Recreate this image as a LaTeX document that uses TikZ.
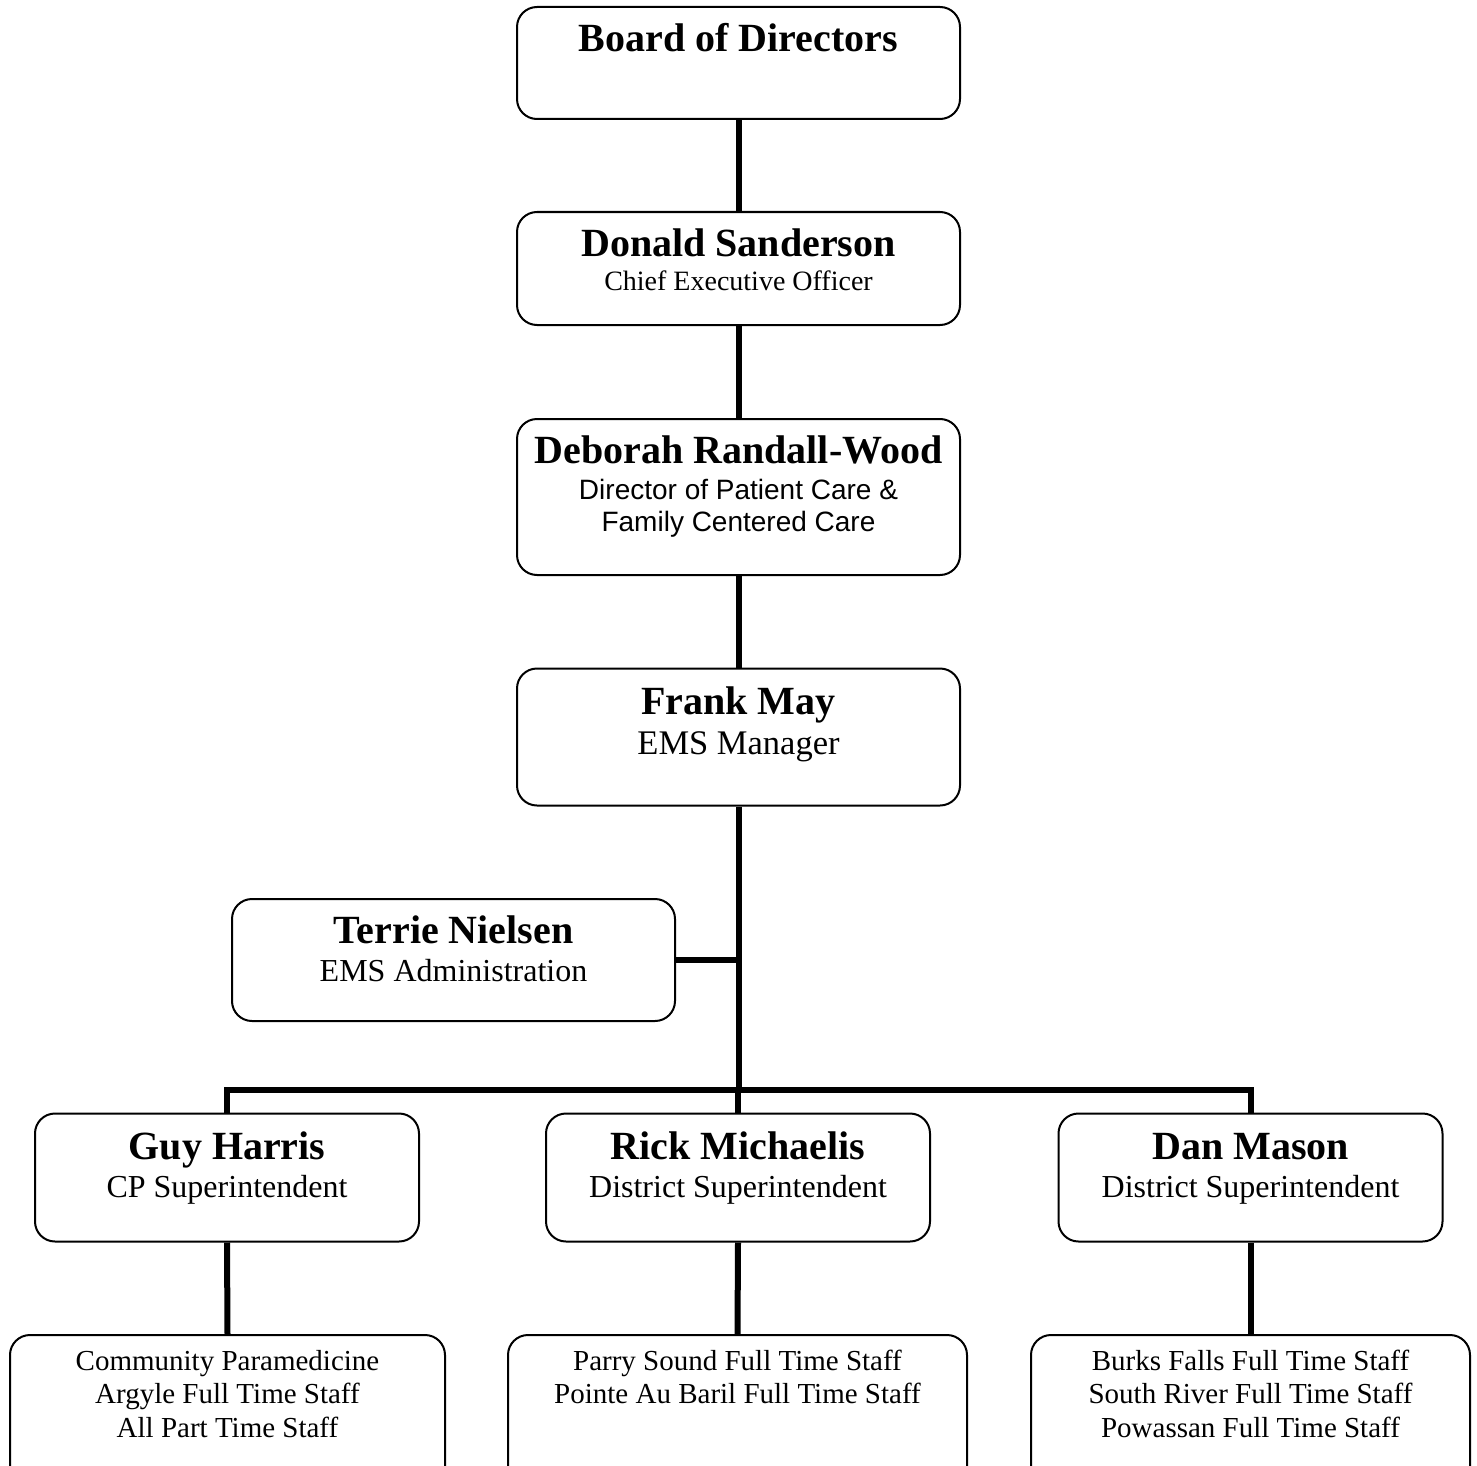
\documentclass[tikz,border=0pt]{standalone}
\usepackage{fontspec}
\setmainfont{Liberation Serif}
\newfontfamily\arialfont{Liberation Sans}
\begin{document}
\begin{tikzpicture}[x=1pt,y=-1pt,
  box/.style={draw=black, line width=2pt, rounded corners=20pt, fill=white, inner sep=0pt},
  conn/.style={draw=black, line width=6pt},
  nm/.style={anchor=base, inner sep=0pt, font=\fontsize{40}{44}\selectfont\bfseries},
  sub/.style={anchor=base, inner sep=0pt, font=\fontsize{#1}{#1}\selectfont},
  sub/.default=32
]
\useasboundingbox (0,0) rectangle (1477,1466);
\clip (0,0) rectangle (1477,1466);
% boxes
\node[box, minimum width=443pt, minimum height=112pt] (board) at (738.5,63) {};
\node[box, minimum width=443pt, minimum height=113pt] (donald) at (738.5,268.5) {};
\node[box, minimum width=443pt, minimum height=156pt] (deborah) at (738.5,497) {};
\node[box, minimum width=443pt, minimum height=137pt] (frank) at (738.5,737) {};
\node[box, minimum width=443pt, minimum height=122pt] (terrie) at (453.5,960) {};
\node[box, minimum width=384pt, minimum height=128pt] (guy) at (227,1177.5) {};
\node[box, minimum width=384pt, minimum height=128pt] (rick) at (738,1177.5) {};
\node[box, minimum width=384pt, minimum height=128pt] (dan) at (1250.5,1177.5) {};
\node[box, minimum width=435pt, minimum height=160pt] (staffa) at (227.5,1415) {};
\node[box, minimum width=459pt, minimum height=160pt] (staffb) at (737.5,1415) {};
\node[box, minimum width=439pt, minimum height=160pt] (staffc) at (1250.5,1415) {};
% connectors
\coordinate (bus) at (738.5,1090);
\draw[conn] (board.south) -- (donald.north);
\draw[conn] (donald.south) -- (deborah.north);
\draw[conn] (deborah.south) -- (frank.north);
\draw[conn] (frank.south) -- (bus);
\draw[conn] (terrie.east) -- (terrie.east -| frank.south);
\draw[conn] (guy.north) |- (bus) -| (dan.north);
\draw[conn] (rick.north) -- (rick.north |- bus);
\draw[conn] (guy.south) -- (staffa.north);
\draw[conn] (rick.south) -- (staffb.north);
\draw[conn] (dan.south) -- (staffc.north);
% texts
\node[nm] (t1) at (738.5,52) {Board of Directors};
\node[nm] (t2) at (738.5,256) {Donald Sanderson};
\node[sub=28] (t3) at (738.5,290) {Chief Executive Officer};
\node[nm] (t4) at (738.5,463) {Deborah Randall-Wood};
\node[sub=28, font=\arialfont\fontsize{28}{28}\selectfont] (t5) at (738.5,499) {Director of Patient Care \&};
\node[sub=28, font=\arialfont\fontsize{28}{28}\selectfont] (t6) at (738.5,531) {Family Centered Care};
\node[nm] (t7) at (738.5,714) {Frank May};
\node[sub=34.5] (t8) at (738.5,754) {EMS Manager};
\node[nm] (t9) at (453.5,943) {Terrie Nielsen};
\node[sub=32] (t10) at (453.5,981) {EMS Administration};
\node[nm] (t11) at (227,1159) {Guy Harris};
\node[sub=32] (t12) at (227,1197) {CP Superintendent};
\node[nm] (t13) at (738,1159) {Rick Michaelis};
\node[sub=32] (t14) at (738,1197) {District Superintendent};
\node[nm] (t15) at (1250.5,1159) {Dan Mason};
\node[sub=32] (t16) at (1250.5,1197) {District Superintendent};
\node[sub=29] (t17) at (227.5,1370) {Community Paramedicine};
\node[sub=29] (t18) at (227.5,1403.5) {Argyle Full Time Staff};
\node[sub=29] (t19) at (227.5,1437) {All Part Time Staff};
\node[sub=29] (t20) at (737.5,1370) {Parry Sound Full Time Staff};
\node[sub=29] (t21) at (737.5,1403.5) {Pointe Au Baril Full Time Staff};
\node[sub=29] (t22) at (1250.5,1370) {Burks Falls Full Time Staff};
\node[sub=29] (t23) at (1250.5,1403.5) {South River Full Time Staff};
\node[sub=29] (t24) at (1250.5,1437) {Powassan Full Time Staff};
\end{tikzpicture}
\end{document}
